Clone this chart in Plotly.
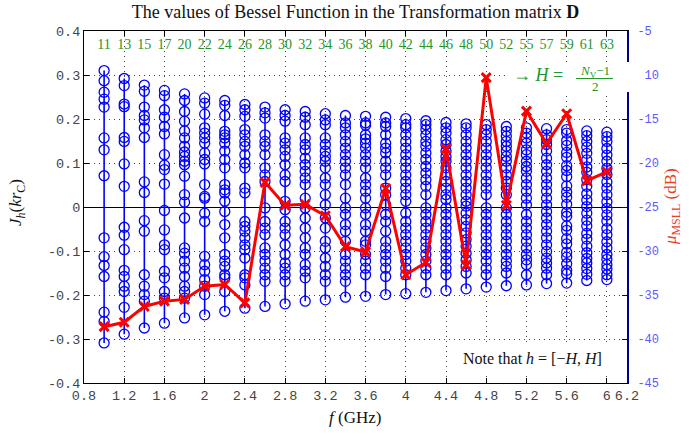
import plotly.graph_objects as go

# ---------------- data ----------------
freq_ghz = [1.0, 1.2, 1.4, 1.6, 1.8, 2.0, 2.2, 2.4, 2.6, 2.8, 3.0, 3.2, 3.4,
            3.6, 3.8, 4.0, 4.2, 4.4, 4.6, 4.8, 5.0, 5.2, 5.4, 5.6, 5.8, 6.0]
n_v = [11, 13, 15, 17, 20, 22, 24, 26, 28, 30, 32, 34, 36, 38, 40, 42, 44,
       46, 48, 50, 52, 55, 57, 59, 61, 63]
msll_db = [-38.6, -38.1, -36.3, -35.7, -35.5, -34.0, -33.8, -35.9, -22.2,
           -24.8, -24.7, -26.0, -29.5, -30.1, -22.9, -32.7, -31.3, -18.4,
           -31.6, -10.3, -24.8, -14.1, -17.8, -14.4, -22.0, -21.0]

J_values = [
    [0.310, 0.287, 0.261, 0.245, 0.227, 0.157, 0.130, 0.071, -0.070, -0.113, -0.133, -0.158, -0.239, -0.260, -0.309],
    [0.292, 0.276, 0.234, 0.228, 0.158, 0.149, 0.098, 0.047, -0.046, -0.064, -0.097, -0.144, -0.158, -0.180, -0.192, -0.228, -0.289],
    [0.277, 0.263, 0.227, 0.208, 0.198, 0.180, 0.158, 0.057, 0.033, -0.031, -0.055, -0.154, -0.180, -0.199, -0.214, -0.275],
    [0.265, 0.253, 0.221, 0.204, 0.183, 0.166, 0.119, 0.095, 0.085, 0.052, -0.008, -0.052, -0.086, -0.097, -0.146, -0.161, -0.192, -0.207, -0.264],
    [0.257, 0.242, 0.217, 0.195, 0.173, 0.157, 0.138, 0.125, 0.115, 0.104, 0.096, 0.070, 0.028, 0.011, -0.025, -0.093, -0.105, -0.123, -0.139, -0.158, -0.180, -0.192, -0.207, -0.252],
    [0.248, 0.236, 0.211, 0.180, 0.168, 0.157, 0.145, 0.123, 0.108, 0.098, 0.051, 0.024, 0.020, -0.014, -0.033, -0.112, -0.131, -0.146, -0.165, -0.180, -0.199, -0.245],
    [0.242, 0.231, 0.208, 0.172, 0.164, 0.157, 0.145, 0.127, 0.108, 0.089, 0.051, 0.039, 0.032, 0.013, -0.010, -0.040, -0.070, -0.108, -0.123, -0.135, -0.154, -0.161, -0.192, -0.237],
    [0.233, 0.221, 0.206, 0.176, 0.164, 0.149, 0.138, 0.119, 0.100, 0.089, 0.043, 0.032, -0.033, -0.044, -0.055, -0.070, -0.086, -0.097, -0.116, -0.154, -0.161, -0.177, -0.230],
    [0.227, 0.214, 0.202, 0.164, 0.149, 0.138, 0.119, 0.089, 0.073, 0.058, -0.002, -0.033, -0.048, -0.063, -0.093, -0.108, -0.123, -0.139, -0.154, -0.169, -0.226],
    [0.221, 0.208, 0.195, 0.157, 0.145, 0.130, 0.115, 0.096, 0.073, 0.058, 0.013, -0.006, -0.033, -0.048, -0.063, -0.086, -0.108, -0.127, -0.139, -0.154, -0.169, -0.220],
    [0.217, 0.204, 0.187, 0.157, 0.142, 0.130, 0.111, 0.096, 0.081, 0.066, 0.051, 0.020, -0.002, -0.025, -0.048, -0.070, -0.093, -0.108, -0.131, -0.146, -0.161, -0.214],
    [0.212, 0.198, 0.187, 0.157, 0.142, 0.127, 0.115, 0.104, 0.089, 0.066, 0.051, 0.028, 0.005, -0.025, -0.048, -0.078, -0.093, -0.116, -0.135, -0.154, -0.169, -0.211],
    [0.208, 0.191, 0.180, 0.164, 0.149, 0.134, 0.119, 0.104, 0.089, 0.073, 0.051, 0.020, -0.002, -0.017, -0.040, -0.055, -0.078, -0.108, -0.123, -0.139, -0.154, -0.169, -0.205],
    [0.206, 0.191, 0.186, 0.164, 0.155, 0.145, 0.134, 0.119, 0.104, 0.089, 0.066, 0.051, 0.036, 0.020, -0.002, -0.017, -0.040, -0.055, -0.078, -0.086, -0.108, -0.123, -0.139, -0.154, -0.203],
    [0.204, 0.191, 0.183, 0.164, 0.145, 0.134, 0.123, 0.104, 0.089, 0.073, 0.043, 0.028, 0.005, -0.017, -0.033, -0.055, -0.078, -0.093, -0.108, -0.123, -0.139, -0.158, -0.199],
    [0.201, 0.187, 0.180, 0.164, 0.149, 0.134, 0.119, 0.104, 0.089, 0.073, 0.058, 0.043, 0.028, 0.013, -0.014, -0.033, -0.048, -0.063, -0.078, -0.093, -0.108, -0.123, -0.139, -0.154, -0.197],
    [0.196, 0.187, 0.176, 0.163, 0.149, 0.138, 0.123, 0.108, 0.092, 0.077, 0.062, 0.047, 0.028, -0.002, -0.017, -0.033, -0.048, -0.063, -0.078, -0.093, -0.108, -0.123, -0.139, -0.154, -0.194],
    [0.192, 0.180, 0.168, 0.153, 0.142, 0.127, 0.115, 0.104, 0.089, 0.073, 0.058, 0.043, 0.028, 0.017, -0.002, -0.017, -0.033, -0.048, -0.063, -0.078, -0.093, -0.108, -0.123, -0.139, -0.154, -0.190],
    [0.189, 0.180, 0.164, 0.149, 0.134, 0.119, 0.104, 0.089, 0.073, 0.058, 0.043, 0.028, 0.013, 0.002, -0.014, -0.029, -0.044, -0.059, -0.074, -0.089, -0.105, -0.120, -0.135, -0.150, -0.186],
    [0.187, 0.176, 0.164, 0.149, 0.134, 0.119, 0.104, 0.089, 0.073, 0.058, 0.043, 0.028, -0.002, -0.017, -0.033, -0.048, -0.063, -0.078, -0.093, -0.108, -0.123, -0.139, -0.154, -0.182],
    [0.183, 0.172, 0.161, 0.149, 0.138, 0.127, 0.115, 0.104, 0.089, 0.073, 0.058, 0.043, 0.028, -0.002, -0.017, -0.033, -0.048, -0.063, -0.078, -0.093, -0.108, -0.123, -0.135, -0.150, -0.179],
    [0.180, 0.168, 0.157, 0.145, 0.130, 0.119, 0.104, 0.092, 0.081, 0.066, 0.051, 0.036, 0.020, 0.005, -0.017, -0.033, -0.048, -0.063, -0.078, -0.093, -0.108, -0.120, -0.131, -0.154, -0.177],
    [0.178, 0.164, 0.153, 0.142, 0.127, 0.111, 0.096, 0.081, 0.066, 0.051, 0.036, 0.020, 0.005, -0.010, -0.025, -0.040, -0.055, -0.070, -0.086, -0.101, -0.116, -0.127, -0.139, -0.154, -0.174],
    [0.176, 0.168, 0.151, 0.140, 0.124, 0.113, 0.094, 0.083, 0.069, 0.048, 0.034, 0.022, 0.006, -0.012, -0.021, -0.043, -0.053, -0.072, -0.084, -0.103, -0.114, -0.129, -0.144, -0.152, -0.173],
    [0.173, 0.162, 0.149, 0.136, 0.122, 0.107, 0.091, 0.079, 0.062, 0.047, 0.030, 0.016, 0.001, -0.014, -0.030, -0.043, -0.060, -0.073, -0.089, -0.104, -0.117, -0.127, -0.140, -0.153, -0.167],
    [0.170, 0.160, 0.149, 0.133, 0.118, 0.104, 0.088, 0.074, 0.057, 0.043, 0.028, 0.012, -0.003, -0.018, -0.032, -0.049, -0.063, -0.079, -0.093, -0.108, -0.119, -0.131, -0.141, -0.154, -0.165],
]

x_tickvals = [0.8, 1.2, 1.6, 2.0, 2.4, 2.8, 3.2, 3.6, 4.0, 4.4, 4.8, 5.2, 5.6, 6.0, 6.2]
x_ticktext = ["0.8", "1.2", "1.6", "2", "2.4", "2.8", "3.2", "3.6", "4", "4.4",
              "4.8", "5.2", "5.6", "6", "6.2"]
y_tickvals = [-0.4, -0.3, -0.2, -0.1, 0, 0.1, 0.2, 0.3, 0.4]
y_ticktext = ["-0.4", "-0.3", "-0.2", "-0.1", "0", "0.1", "0.2", "0.3", "0.4"]
y2_tickvals = [-45, -40, -35, -30, -25, -20, -15, -10, -5]
y2_ticktext = ["-45", "-40", "-35", "-30", "-25", "-20", "-15", "-10", "-5"]

title_text = "The values of Bessel Function in the Transformation matrix <b>D</b>"

# ---------------- figure ----------------
SERIF = "Liberation Serif"
MONO = "Liberation Mono"
GREEN = "#23952a"
BLUE = "#0000ff"

# plot-area geometry in pixels (used only to place notes)
L, R, T, B = 84, 627, 31, 383
PW, PH = R - L, B - T


def px(xp):
    return (xp - L) / PW


def py(yp):
    return (B - yp) / PH


xs, ys = [], []
for f, vals in zip(freq_ghz, J_values):
    s = sorted(vals)
    xs += [f] * len(s) + [None]
    ys += s + [None]

fig = go.Figure()
fig.add_trace(go.Scatter(
    x=xs, y=ys, mode="lines+markers", connectgaps=False,
    line=dict(color=BLUE, width=1.6),
    marker=dict(symbol="circle-open", size=10, color=BLUE, line=dict(width=1.3, color=BLUE)),
    showlegend=False, hoverinfo="skip"))

fig.add_trace(go.Scatter(
    x=freq_ghz, y=[0.366] * len(freq_ghz), mode="text",
    text=[str(n) for n in n_v],
    textfont=dict(family=SERIF, size=14, color=GREEN),
    cliponaxis=False, showlegend=False, hoverinfo="skip"))

fig.add_trace(go.Scatter(
    x=freq_ghz, y=msll_db, yaxis="y2", mode="lines+markers",
    line=dict(color="#ff0000", width=3),
    marker=dict(symbol="x-thin", size=9, color="#ff0000", line=dict(width=3, color="#ff0000")),
    showlegend=False))

grid = dict(showgrid=True, gridcolor="#444", gridwidth=1, griddash="1px,4px")

fig.update_layout(
    width=697, height=434,
    margin=dict(l=L, r=697 - R, t=T, b=434 - B),
    paper_bgcolor="white", plot_bgcolor="white",
    showlegend=False,
    title=dict(text=title_text, x=0.5, xref="paper", xanchor="center",
               y=1 - 12 / 434, yref="container", yanchor="middle",
               font=dict(family=SERIF, size=18, color="#111")),
    xaxis=dict(range=[0.8, 6.2], tickvals=x_tickvals, ticktext=x_ticktext, tickangle=0,
               ticks="inside", ticklen=5, tickcolor="black",
               showline=True, linecolor="black", linewidth=1, mirror="ticks",
               zeroline=False, tickfont=dict(family=MONO, size=13.5, color="#444"), **grid),
    yaxis=dict(range=[-0.4, 0.4], tickvals=y_tickvals, ticktext=y_ticktext,
               ticks="inside", ticklen=5, tickcolor="black",
               showline=True, linecolor="black", linewidth=1,
               zeroline=True, zerolinecolor="black", zerolinewidth=1,
               tickfont=dict(family=MONO, size=13.5, color="#444"), **grid),
    yaxis2=dict(overlaying="y", side="right", range=[-45, -5],
                tickvals=y2_tickvals, ticktext=y2_ticktext,
                ticks="inside", ticklen=5, tickcolor="#00008b", ticklabelstandoff=6,
                showline=True, linecolor="#00008b", linewidth=2,
                showgrid=False, zeroline=False,
                tickfont=dict(family=MONO, size=12, color="#5a5aff")),
)

# white boxes behind the two notes
fig.add_shape(type="rect", xref="paper", yref="paper", x0=px(505), x1=px(643), y0=py(92), y1=py(62),
              fillcolor="white", line=dict(width=0), layer="above")
fig.add_shape(type="rect", xref="paper", yref="paper", x0=px(450), x1=px(624), y0=py(372), y1=py(345),
              fillcolor="white", line=dict(width=0), layer="above")
# fraction bar
fig.add_shape(type="line", xref="paper", yref="paper", x0=px(576), x1=px(613),
              y0=py(78.5), y1=py(78.5), line=dict(color=GREEN, width=1), layer="above")

ann = [
    dict(text="→ <i>H</i> =", x=px(511), y=py(75), xanchor="left", yanchor="middle",
         font=dict(family=SERIF, size=18, color=GREEN)),
    dict(text="<i>N</i><sub>V</sub>−1", x=px(595), y=py(71), xanchor="center", yanchor="middle",
         font=dict(family=SERIF, size=13, color=GREEN)),
    dict(text="2", x=px(595), y=py(86.5), xanchor="center", yanchor="middle",
         font=dict(family=SERIF, size=13, color=GREEN)),
    dict(text="Note that <i>h</i> = [−<i>H</i>, <i>H</i>]", x=px(532), y=py(358),
         xanchor="center", yanchor="middle", font=dict(family=SERIF, size=16, color="#111")),
    dict(text="<i>J<sub>h</sub></i>(<i>kr</i><sub>C</sub>)", x=px(17), y=py(203),
         xanchor="center", yanchor="middle", textangle=-90, font=dict(family=SERIF, size=17, color="#111")),
    dict(text="<i>μ</i><sub>MSLL</sub> (dB)", x=px(672), y=py(207), xanchor="center", yanchor="middle",
         textangle=-90, font=dict(family=SERIF, size=17, color="#e8411e")),
    dict(text="<i>f</i> (GHz)", x=px(355), y=py(417), xanchor="center", yanchor="middle",
         font=dict(family=SERIF, size=17, color="#111")),
]
for a in ann:
    fig.add_annotation(xref="paper", yref="paper", showarrow=False, **a)

fig.write_html("out.html", config={"displayModeBar": False},
               post_script="document.body.style.margin='0';document.body.style.padding='0';")
